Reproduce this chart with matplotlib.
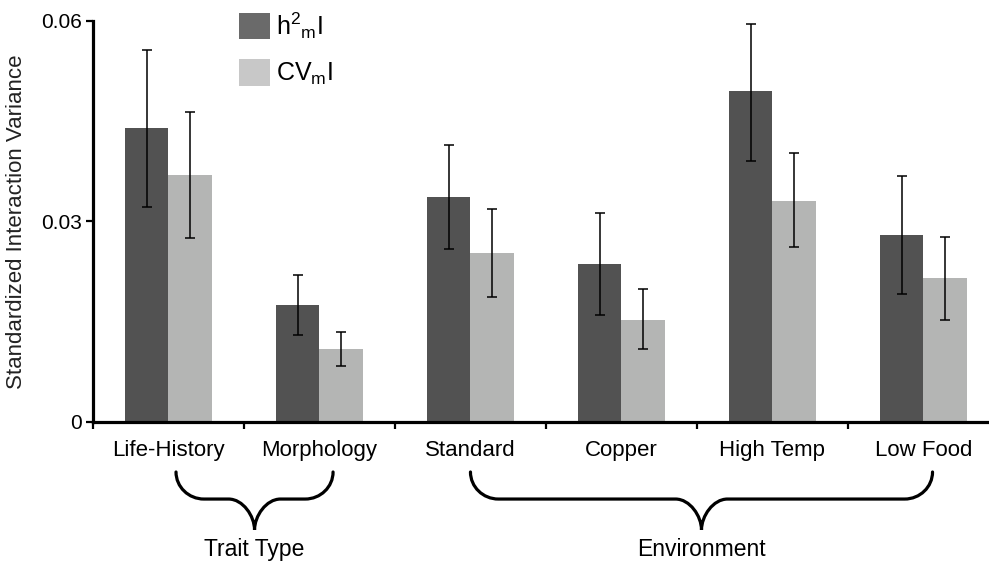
import matplotlib
matplotlib.use("Agg")
import matplotlib.pyplot as plt
import numpy as np
from matplotlib.patches import Patch, PathPatch
from matplotlib.path import Path
from matplotlib.transforms import blended_transform_factory

plt.rcParams['font.family'] = ['Liberation Sans', 'DejaVu Sans']
plt.rcParams['mathtext.fontset'] = 'custom'
plt.rcParams['mathtext.rm'] = 'Liberation Sans'
plt.rcParams['mathtext.it'] = 'Liberation Sans'
plt.rcParams['mathtext.default'] = 'regular'

# data
categories = ['Life-History', 'Morphology', 'Standard', 'Copper', 'High Temp', 'Low Food']
h2_vals = [0.0440, 0.0174, 0.0336, 0.0236, 0.0495, 0.0280]
h2_hi = [0.0557, 0.0220, 0.0415, 0.0313, 0.0595, 0.0368]
h2_lo = [0.0322, 0.0130, 0.0258, 0.0160, 0.0391, 0.0191]
cv_vals = [0.0370, 0.0109, 0.0253, 0.0153, 0.0331, 0.0215]
cv_hi = [0.0464, 0.0135, 0.0318, 0.0198, 0.0402, 0.0277]
cv_lo = [0.0275, 0.0083, 0.0187, 0.0109, 0.0261, 0.0152]
yticks = [0, 0.03, 0.06]
ytick_labels = ['0', '0.03', '0.06']
groups = ['Trait Type', 'Environment']
group_spans = [(0.05, 1.09), (2.0, 5.06)]

dark = '#525252'
light = '#b4b5b4'

fig = plt.figure(figsize=(9.89, 5.61), dpi=100)
ax = fig.add_axes([0.094, 0.2483, 0.906, 0.7143])

x = np.arange(len(categories))
w = 0.285
h2_err = [np.array(h2_vals) - np.array(h2_lo), np.array(h2_hi) - np.array(h2_vals)]
cv_err = [np.array(cv_vals) - np.array(cv_lo), np.array(cv_hi) - np.array(cv_vals)]
err_kw = dict(ecolor='black', elinewidth=1.1, capsize=3.3, capthick=1.1)
ax.bar(x - w / 2, h2_vals, w, color=dark, yerr=h2_err, error_kw=err_kw, zorder=2)
ax.bar(x + w / 2, cv_vals, w, color=light, yerr=cv_err, error_kw=err_kw, zorder=2)

ax.set_xlim(-0.5, 5.434)
ax.set_ylim(0, 0.06)
ax.set_yticks(yticks)
ax.set_yticklabels(ytick_labels, fontsize=15)
ax.set_xticks(np.arange(-0.5, len(categories) - 0.5, 1.0))
ax.set_xticklabels([])
ax.set_xticks(x, minor=True)
ax.set_xticklabels(categories, minor=True, fontsize=16)
ax.tick_params(axis='x', which='major', direction='out', length=5, width=1.6)
ax.tick_params(axis='x', which='minor', length=0, pad=13)
ax.tick_params(axis='y', direction='out', length=5, width=1.6, pad=3)
ax.set_ylabel('Standardized Interaction Variance', fontsize=16, labelpad=10, color='#222222')

for s in ['top', 'right']:
    ax.spines[s].set_visible(False)
for s in ['left', 'bottom']:
    ax.spines[s].set_linewidth(2.3)

# legend
handles = [Patch(facecolor='#6a6a6a'), Patch(facecolor='#c8c8c8')]
labels = ['h$^{2}{}_{m}$I', 'CV$_{m}$I']
fig.legend(handles, labels, loc='upper left', bbox_to_anchor=(239 / 989, 1 - 10 / 561),
           frameon=False, fontsize=18, handlelength=1.25, handleheight=1.25,
           handletextpad=0.25, labelspacing=0.75, borderpad=0, borderaxespad=0)

# curly braces under the category labels
trans = blended_transform_factory(ax.transData, ax.transAxes)
y_top, y_mid, y_bot = -0.1255, -0.193, -0.270
rx, rc = 0.185, 0.172
k = 0.552
for name, (xl, xr) in zip(groups, group_spans):
    xc = (xl + xr) / 2
    hh = y_top - y_mid
    hc = y_mid - y_bot
    verts = [
        (xl, y_top),
        (xl, y_top - k * hh), (xl + rx - k * rx, y_mid), (xl + rx, y_mid),
        (xc - rc, y_mid),
        (xc - rc + k * rc, y_mid), (xc, y_mid - k * hc), (xc, y_bot),
        (xc, y_mid - k * hc), (xc + rc - k * rc, y_mid), (xc + rc, y_mid),
        (xr - rx, y_mid),
        (xr - rx + k * rx, y_mid), (xr, y_top - k * hh), (xr, y_top),
    ]
    codes = [Path.MOVETO,
             Path.CURVE4, Path.CURVE4, Path.CURVE4,
             Path.LINETO,
             Path.CURVE4, Path.CURVE4, Path.CURVE4,
             Path.CURVE4, Path.CURVE4, Path.CURVE4,
             Path.LINETO,
             Path.CURVE4, Path.CURVE4, Path.CURVE4]
    patch = PathPatch(Path(verts, codes), facecolor='none', edgecolor='black',
                      linewidth=2.3, transform=trans, clip_on=False, capstyle='round')
    ax.add_patch(patch)
    ax.text(xc, -0.318, name, transform=trans, ha='center', va='center', fontsize=16.5)

plt.savefig('out.png', dpi=100)
